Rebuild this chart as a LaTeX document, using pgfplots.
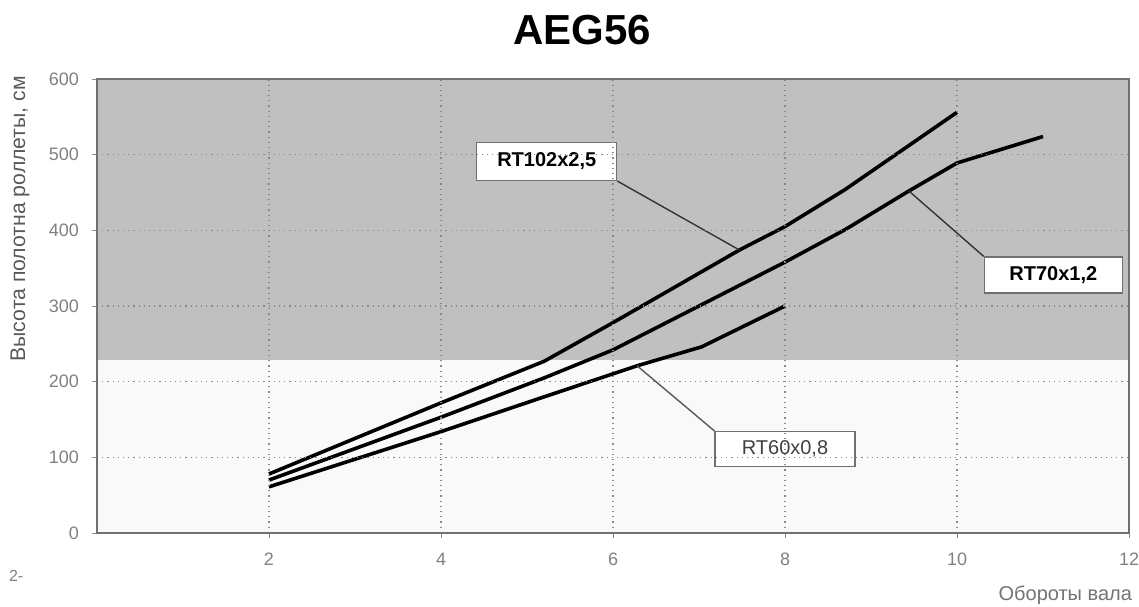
\documentclass[border=0pt]{standalone}
\usepackage{fontspec}
\setmainfont{Liberation Sans}
\usepackage{pgfplots}
\pgfplotsset{compat=1.18}
\definecolor{upgray}{HTML}{C0C0C0}
\definecolor{lowbg}{HTML}{F9F9F9}
\definecolor{tickgray}{HTML}{808080}
\definecolor{gridgray}{HTML}{8A8A8A}
\definecolor{framegray}{HTML}{707070}
\begin{document}
\begin{tikzpicture}
\useasboundingbox (0,0) rectangle (569.5pt,303pt);
\node[font=\fontsize{21}{24}\selectfont\bfseries] at (291pt,288pt) {AEG56};
\node[font=\fontsize{8}{9}\selectfont, text=tickgray, anchor=west] at (1pt,15pt) {2-};
\begin{axis}[
  at={(48.5pt,36.5pt)}, anchor=south west,
  scale only axis, width=516pt, height=227pt,
  xmin=0, xmax=12, ymin=0, ymax=600,
  xtick={2,4,6,8,10,12}, ytick={0,100,...,600},
  /pgf/number format/assume math mode=true,
  tick label style={font=\fontsize{9}{10}\selectfont, text=tickgray},
  xticklabel style={yshift=-4pt},
  yticklabel style={xshift=-3pt},
  grid=major,
  major grid style={gridgray, line width=0.6pt, dotted},
  axis line style={framegray, line width=0.9pt},
  major tick style={gridgray, line width=0.5pt},
  tick align=outside, major tick length=2.5pt,
  xtick pos=bottom, ytick pos=left,
  axis on top,
  axis background/.style={fill=lowbg},
  ylabel={Высота полотна роллеты, см},
  ylabel style={font=\fontsize{10.6}{12}\selectfont, text=black!65, at={(axis description cs:-0.0746,0.692)}, anchor=center},
  xlabel={Обороты вала},
  xlabel style={font=\fontsize{10}{12}\selectfont, text=black!55, at={(axis description cs:1.0097,-0.100)}, anchor=north east},
  clip=false,
]
\addplot[draw=none, fill=upgray, forget plot] coordinates {
(0,229) (12,229) (12,600) (0,600)} -- cycle;

\addplot[black, line width=1.8pt, line join=round] coordinates {
(2,78) (4,172) (5.2,227) (6,278) (7.47,374) (8,405) (8.7,454) (10,556)};
\addplot[black, line width=1.8pt, line join=round] coordinates {
(2,70) (4,153) (5.2,205) (6,242) (8,358) (8.7,401) (9.44,452) (10,489) (11,524)};
\addplot[black, line width=1.8pt, line join=round] coordinates {
(2,61) (4,134) (5.2,180) (6.28,221) (7.03,246) (8,300)};

\node[draw=framegray, fill=white, line width=0.6pt, minimum width=70pt, minimum height=19pt, font=\fontsize{10}{12}\selectfont\bfseries, inner sep=0pt] (b1) at (axis cs:5.23,491) {RT102x2,5};
\draw[black!80, line width=0.7pt] (b1.south east) -- (axis cs:7.47,374);
\node[draw=framegray, fill=white, line width=0.6pt, minimum width=69pt, minimum height=18pt, font=\fontsize{10}{12}\selectfont\bfseries, inner sep=0pt] (b2) at (axis cs:11.12,341) {RT70x1,2};
\draw[black!80, line width=0.7pt] (b2.north west) -- (axis cs:9.44,452);
\node[draw=framegray, fill=white, line width=0.6pt, minimum width=70pt, minimum height=17.5pt, font=\fontsize{10}{12}\selectfont, text=black!75, inner sep=0pt] (b3) at (axis cs:8.0,111) {RT60x0,8};
\draw[black!65, line width=0.7pt] (b3.north west) -- (axis cs:6.28,221);
\end{axis}
\end{tikzpicture}
\end{document}
